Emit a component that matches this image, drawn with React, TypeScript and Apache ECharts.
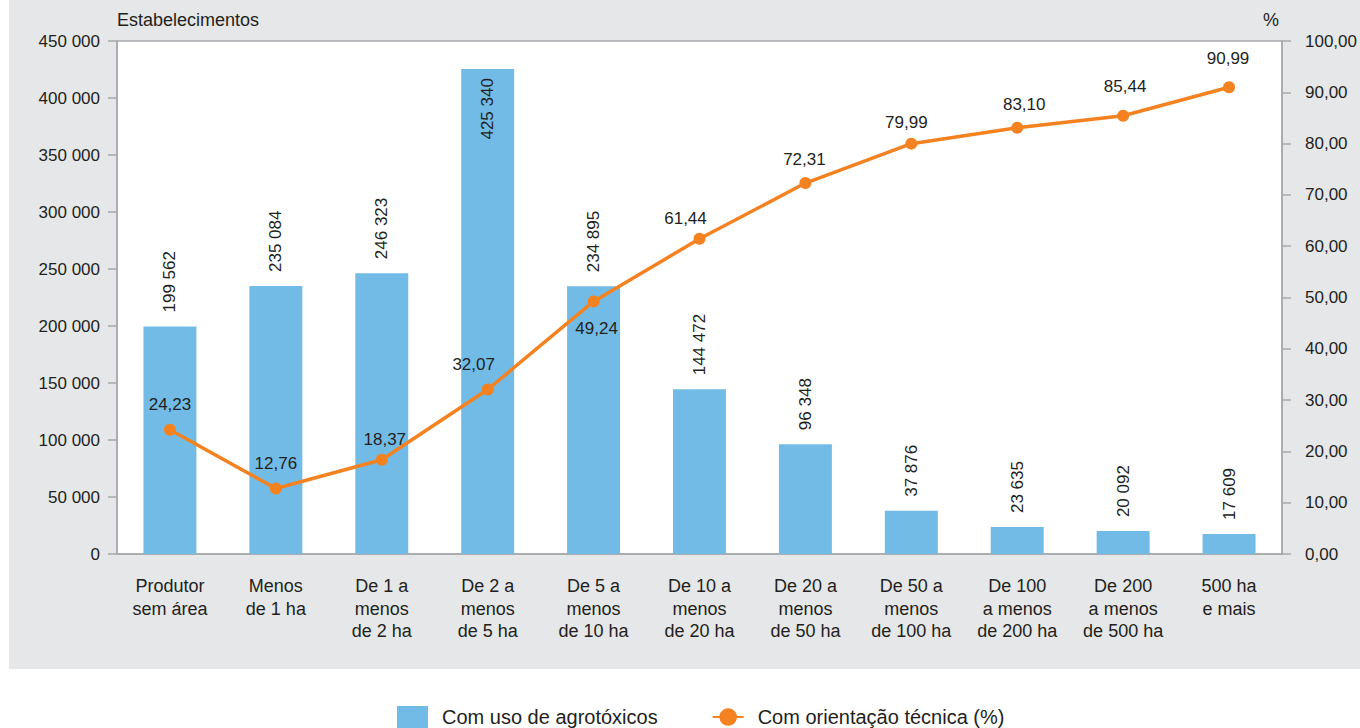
import React, { useEffect, useRef } from "react";
import * as echarts from "echarts";

const categories = [
  "Produtor\nsem área",
  "Menos\nde 1 ha",
  "De 1 a\nmenos\nde 2 ha",
  "De 2 a\nmenos\nde 5 ha",
  "De 5 a\nmenos\nde 10 ha",
  "De 10 a\nmenos\nde 20 ha",
  "De 20 a\nmenos\nde 50 ha",
  "De 50 a\nmenos\nde 100 ha",
  "De 100\na menos\nde 200 ha",
  "De 200\na menos\nde 500 ha",
  "500 ha\ne mais",
];
const agrotoxicos = [199562, 235084, 246323, 425340, 234895, 144472, 96348, 37876, 23635, 20092, 17609];
const orientacao = [24.23, 12.76, 18.37, 32.07, 49.24, 61.44, 72.31, 79.99, 83.1, 85.44, 90.99];
const lineLabelOffsets: [number, number][] = [
  [0, -6], [0, -6], [3, -1], [-14, -5], [3, 8], [-14, -1], [-1, -4], [-5, -2], [7, -4], [2, -10], [-1, -9],
];
const lineLabelPositions = ["top", "top", "top", "top", "bottom", "top", "top", "top", "top", "top", "top"];
const leftName = "Estabelecimentos";
const rightName = "%";
const barName = "Com uso de agrotóxicos";
const lineName = "Com orientação técnica (%)";

const FONT = "Liberation Sans, Arial, sans-serif";
const TXT = "#231f20";
const AXIS = "#a7a9ac";
const BLUE = "#72bbe6";
const ORANGE = "#f58220";

const fmtThousands = (n: number) => String(n).replace(/\B(?=(\d{3})+(?!\d))/g, " ");
const fmtPct = (n: number) => n.toFixed(2).replace(".", ",");

export default function App() {
  const ref = useRef<HTMLDivElement>(null);
  useEffect(() => {
    if (!ref.current) return;
    const chart = echarts.init(ref.current, undefined, { renderer: "svg" });
    const barData = agrotoxicos.map((v) =>
      v > 400000
        ? {
            value: v,
            label: {
              position: "insideTop",
              align: "right",
              verticalAlign: "middle",
              distance: 9,
            },
          }
        : { value: v }
    );
    const lineData = orientacao.map((v, i) => ({
      value: v,
      label: { position: lineLabelPositions[i], offset: lineLabelOffsets[i] },
    }));
    chart.setOption({
      animation: false,
      textStyle: { fontFamily: FONT },
      graphic: [
        {
          type: "rect",
          z: -10,
          silent: true,
          shape: { x: 9, y: 0, width: 1351, height: 669 },
          style: { fill: "#e6e7e8" },
        },
      ],
      grid: {
        left: 117,
        right: 77,
        top: 41,
        bottom: 174,
        show: true,
        backgroundColor: "#ffffff",
        borderColor: AXIS,
        borderWidth: 1.5,
      },
      legend: {
        left: 397,
        top: 706,
        padding: 0,
        itemWidth: 31,
        itemHeight: 22,
        itemGap: 54,
        textStyle: { fontFamily: FONT, fontSize: 20, color: TXT, padding: [0, 0, 0, 9] },
        data: [
          { name: barName, icon: "rect" },
          { name: lineName },
        ],
      },
      xAxis: {
        type: "category",
        data: categories,
        axisLine: { show: true, lineStyle: { color: AXIS, width: 1.5 } },
        axisTick: { show: false },
        axisLabel: {
          interval: 0,
          margin: 21,
          fontSize: 18,
          lineHeight: 22.5,
          color: TXT,
          fontFamily: FONT,
        },
      },
      yAxis: [
        {
          type: "value",
          min: 0,
          max: 450000,
          interval: 50000,
          name: leftName,
          nameLocation: "end",
          nameGap: 12,
          nameTextStyle: { fontFamily: FONT, fontSize: 18, color: TXT, align: "left", verticalAlign: "bottom" },
          axisLine: { show: true, lineStyle: { color: AXIS, width: 1.5 } },
          axisTick: { show: true, length: 9, lineStyle: { color: AXIS, width: 1.5 } },
          splitLine: { show: false },
          axisLabel: {
            margin: 17,
            fontSize: 17,
            color: TXT,
            fontFamily: FONT,
            formatter: (v: number) => fmtThousands(v),
          },
        },
        {
          type: "value",
          min: 0,
          max: 100,
          interval: 10,
          position: "right",
          name: rightName,
          nameLocation: "end",
          nameGap: 12,
          nameTextStyle: { fontFamily: FONT, fontSize: 18, color: TXT, align: "right", verticalAlign: "bottom", padding: [0, 3, 0, 0] },
          axisLine: { show: true, lineStyle: { color: AXIS, width: 1.5 } },
          axisTick: { show: true, length: 9, lineStyle: { color: AXIS, width: 1.5 } },
          splitLine: { show: false },
          axisLabel: {
            margin: 23,
            fontSize: 17,
            color: TXT,
            fontFamily: FONT,
            formatter: (v: number) => fmtPct(v),
          },
        },
      ],
      series: [
        {
          name: barName,
          type: "bar",
          yAxisIndex: 0,
          barWidth: "50%",
          itemStyle: { color: BLUE },
          data: barData,
          label: {
            show: true,
            position: "top",
            rotate: 90,
            align: "left",
            verticalAlign: "middle",
            distance: 14,
            fontSize: 17,
            color: TXT,
            fontFamily: FONT,
            formatter: (p: any) => fmtThousands(p.value),
          },
        },
        {
          name: lineName,
          type: "line",
          yAxisIndex: 1,
          data: lineData,
          symbol: "circle",
          symbolSize: 12,
          lineStyle: { color: ORANGE, width: 3.5 },
          itemStyle: { color: ORANGE },
          label: {
            show: true,
            distance: 5,
            fontSize: 17,
            color: TXT,
            fontFamily: FONT,
            formatter: (p: any) => fmtPct(p.value),
          },
        },
      ],
    });
    return () => chart.dispose();
  }, []);
  return (
    <div
      ref={ref}
      style={{ position: "fixed", left: 0, top: 0, width: 1360, height: 728, background: "#ffffff" }}
    />
  );
}
